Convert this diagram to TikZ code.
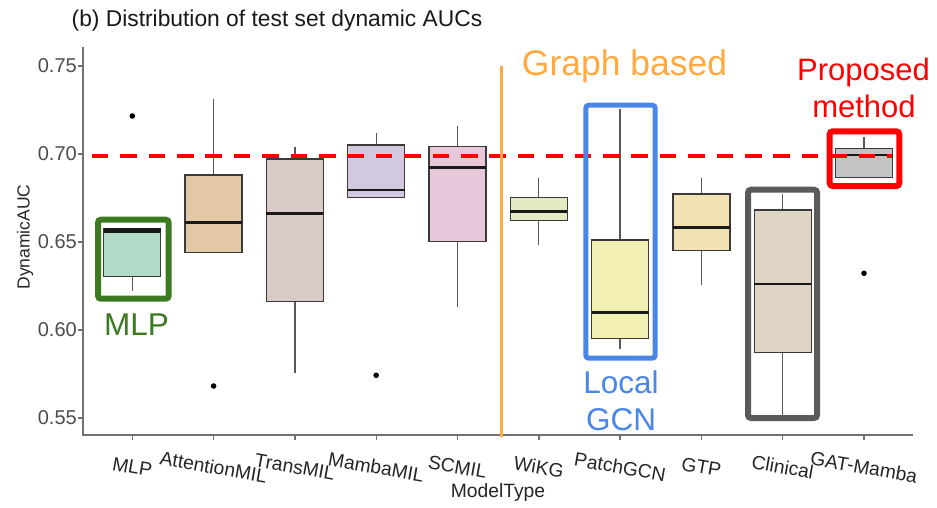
\documentclass[tikz,border=0pt]{standalone}
\usepackage{fontspec}
\setmainfont{Liberation Sans}
\definecolor{axisgray}{HTML}{4D4D4D}
\definecolor{boxline}{HTML}{3A3A3A}
\definecolor{fmlp}{HTML}{B2DCC8}
\definecolor{fatt}{HTML}{E2C8A6}
\definecolor{ftrans}{HTML}{D8CBC6}
\definecolor{fmamba}{HTML}{D2C9E0}
\definecolor{fscmil}{HTML}{E6C8DA}
\definecolor{fwikg}{HTML}{E3E9C3}
\definecolor{fpatch}{HTML}{F1EFB3}
\definecolor{fgtp}{HTML}{F2E2B3}
\definecolor{fclin}{HTML}{DED4C3}
\definecolor{fgat}{HTML}{C3C3C3}
\definecolor{hlgreen}{HTML}{3B7A1F}
\definecolor{hlblue}{HTML}{4A86E8}
\definecolor{hlred}{HTML}{FF0000}
\definecolor{hlgray}{HTML}{5A5A5A}
\definecolor{orangeline}{HTML}{FFA940}
\newcommand\bplot[7]{%
  \draw[whisk] (#1,#2) -- (#1,#3);
  \draw[whisk] (#1,#5) -- (#1,#6);
  \filldraw[boxst, fill=#7] (#1-28.5,#3) rectangle (#1+28.5,#5);
  \draw[medst] (#1-28.5,#4) -- (#1+28.5,#4);
}
\begin{document}
\begin{tikzpicture}[x=1pt,y=-1pt,
  boxst/.style={draw=boxline, line width=1.3pt},
  medst/.style={draw=black!90, line width=2.6pt},
  whisk/.style={draw=boxline!85, line width=1.3pt},
  axisst/.style={draw=axisgray!80, line width=1.4pt},
  hl/.style={line width=6pt, rounded corners=3pt},
  outl/.style={fill=black},
  ticklab/.style={font=\fontsize{20}{20}\selectfont, text=axisgray, anchor=east, inner sep=0pt},
  xlab/.style={font=\fontsize{19.3}{19.3}\selectfont, text=black!85, rotate=-10, inner sep=0pt},
  ann/.style={font=\fontsize{31.5}{31.5}\selectfont, anchor=base, inner sep=0pt}]
\useasboundingbox (0,0) rectangle (937,507);
\fill[white] (0,0) rectangle (937,507);
% title
\node[anchor=base west, inner sep=0pt, font=\fontsize{22.8}{22.8}\selectfont, text=black!90] (title) at (71.5,26.7) {(b) Distribution of test set dynamic AUCs};
% axes
\draw[axisst] (83,47) -- (83,435) -- (913,435);
\foreach \v/\y/\n in {0.75/66/a,0.70/154/b,0.65/242/c,0.60/330/d,0.55/418/e}{
  \draw[axisst] (78,\y) -- (83,\y);
  \node[ticklab] (tick\n) at (77,\y) {\v};
}
\node[rotate=90, font=\fontsize{17.5}{17.5}\selectfont, text=black!85] (ytitle) at (25,237) {DynamicAUC};
\foreach \i/\lab in {0/MLP,1/AttentionMIL,2/TransMIL,3/MambaMIL,4/SCMIL,5/WiKG,6/PatchGCN,7/GTP,8/Clinical,9/GAT-Mamba}{
  \pgfmathsetmacro\xx{132.3+81.3*\i}
  \draw[axisst] (\xx,435) -- (\xx,440);
  \node[xlab] (xl\i) at (\xx,467) {\lab};
}
\node[font=\fontsize{19.3}{19.3}\selectfont, text=black!85] (xtitle) at (498,492) {ModelType};
% boxes
\bplot{132.3}{229}{229}{231.7}{276.7}{290.7}{fmlp}
\draw[medst] (132.3-28.5,229.5) -- (132.3+28.5,229.5);
\bplot{213.6}{99.3}{175}{222.3}{252.3}{252.3}{fatt}
\bplot{294.9}{146.7}{159}{213.3}{301.3}{373.3}{ftrans}
\bplot{376.2}{132.7}{145}{190}{197.3}{197.3}{fmamba}
\bplot{457.5}{125.7}{146.7}{167.7}{241.7}{306.7}{fscmil}
\bplot{538.8}{178.3}{197.3}{211.7}{220.7}{245}{fwikg}
\bplot{620.1}{109.3}{240}{312.3}{338.3}{349.3}{fpatch}
\bplot{701.4}{178.3}{194}{227.7}{250.7}{285}{fgtp}
\bplot{782.7}{194}{210}{284}{352.7}{416}{fclin}
\bplot{864}{136.7}{148.3}{155}{177.3}{177.3}{fgat}
% outliers
\fill[outl] (132.3,116) circle (2.8);
\fill[outl] (213.6,386) circle (2.8);
\fill[outl] (376.2,375.3) circle (2.8);
\fill[outl] (864,273.3) circle (2.8);
% reference line
\draw[hlred, line width=3.3pt, dash pattern=on 16.7pt off 11.7pt] (91.7,156) -- (891.7,156);
% graph separator
\draw[orangeline, line width=3.5pt] (501.7,66) -- (501.7,436.7);
\node[anchor=base west, inner sep=0pt, font=\fontsize{35.5}{35.5}\selectfont, text=orangeline] (graphlab) at (521.7,75) {Graph based};
% highlights
\draw[hl, hlgreen] (98,219.7) rectangle (168.7,298.7);
\draw[hl, hlblue, line width=5pt] (585.8,105.2) rectangle (655.2,358.2);
\draw[hl, hlgray] (748,189.7) rectangle (817,418);
\draw[hl, hlred] (829.7,131.3) rectangle (899.3,186);
% annotations
\node[ann, text=hlgreen] (mlplab) at (136.5,335) {MLP};
\node[ann, text=hlblue] (loc1) at (621,393) {Local};
\node[ann, text=hlblue] (loc2) at (621,430) {GCN};
\node[ann, text=hlred, font=\fontsize{31}{31}\selectfont] (prop1) at (863.5,80) {Proposed};
\node[ann, text=hlred, font=\fontsize{31}{31}\selectfont] (prop2) at (864,117) {method};
\end{tikzpicture}
\end{document}
